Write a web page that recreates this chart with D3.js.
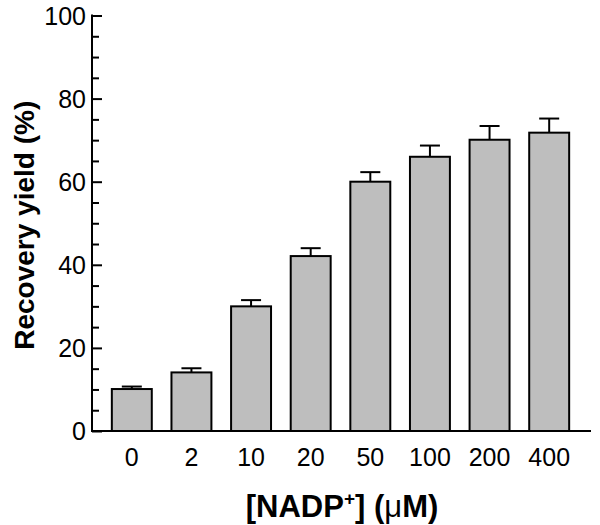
<!DOCTYPE html>
<html>
<head>
<meta charset="utf-8">
<script src="https://cdn.jsdelivr.net/npm/d3@7"></script>
<style>
  body { margin: 0; background: #fff; }
  text { font-family: "Liberation Sans", Arial, sans-serif; fill: #000; }
</style>
</head>
<body>
<div id="chart"></div>
<script>
// Data
const concentrations = ["0", "2", "10", "20", "50", "100", "200", "400"];
const recovery = [10.1, 14.1, 30.0, 42.1, 60.0, 66.0, 70.1, 71.8];
const errorUp = [0.6, 1.0, 1.5, 1.9, 2.3, 2.7, 3.3, 3.4];
const yTicks = [0, 20, 40, 60, 80, 100];

const W = 600, H = 525;
const axisX = 92, axisRight = 591;
const y0 = 431, yTop = 15.5;

const svg = d3.select("#chart")
    .append("svg")
    .attr("width", W)
    .attr("height", H);

const x = d3.scaleBand()
    .domain(concentrations)
    .range([102, 579])
    .paddingInner(0.33)
    .paddingOuter(0.165);

const y = d3.scaleLinear()
    .domain([0, 100])
    .range([y0, yTop]);

// Bars
svg.selectAll(".bar")
    .data(concentrations)
    .enter()
    .append("rect")
    .attr("class", "bar")
    .attr("x", d => x(d))
    .attr("y", (d, i) => y(recovery[i]))
    .attr("width", x.bandwidth())
    .attr("height", (d, i) => y0 - y(recovery[i]))
    .attr("fill", "#bebebe")
    .attr("stroke", "#000")
    .attr("stroke-width", 2);

// Error bars (upper only)
const err = svg.selectAll(".err")
    .data(concentrations)
    .enter()
    .append("g")
    .attr("class", "err")
    .attr("stroke", "#000")
    .attr("stroke-width", 2);

err.append("line")
    .attr("x1", d => x(d) + x.bandwidth() / 2)
    .attr("x2", d => x(d) + x.bandwidth() / 2)
    .attr("y1", (d, i) => y(recovery[i]))
    .attr("y2", (d, i) => y(recovery[i] + errorUp[i]));

err.append("line")
    .attr("x1", d => x(d) + x.bandwidth() / 2 - 10)
    .attr("x2", d => x(d) + x.bandwidth() / 2 + 10)
    .attr("y1", (d, i) => y(recovery[i] + errorUp[i]))
    .attr("y2", (d, i) => y(recovery[i] + errorUp[i]));

// Y axis: ticks point inward
const yAxis = svg.append("g")
    .attr("transform", `translate(${axisX},0)`)
    .call(d3.axisRight(y).tickValues(d3.range(0, 101, 5)).tickSize(7).tickFormat(""));
yAxis.select(".domain").remove();
yAxis.selectAll(".tick line")
    .attr("stroke-width", 2)
    .attr("x2", d => d % 20 === 0 ? 10 : 7);

svg.append("line")
    .attr("x1", axisX).attr("x2", axisX)
    .attr("y1", yTop - 1).attr("y2", y0 + 1)
    .attr("stroke", "#000").attr("stroke-width", 2);

svg.selectAll(".ylab")
    .data(yTicks)
    .enter()
    .append("text")
    .attr("class", "ylab")
    .attr("x", 86)
    .attr("y", d => y(d))
    .attr("dy", "0.36em")
    .attr("text-anchor", "end")
    .style("font-size", "25px")
    .text(d => d);

// X axis
svg.append("line")
    .attr("x1", axisX - 1).attr("x2", axisRight)
    .attr("y1", y0).attr("y2", y0)
    .attr("stroke", "#000").attr("stroke-width", 2);

const xAxis = svg.append("g")
    .attr("transform", `translate(0,${y0})`)
    .call(d3.axisBottom(x).tickSize(0).tickPadding(0));
xAxis.select(".domain").remove();
xAxis.selectAll("text")
    .attr("y", 35)
    .attr("dy", null)
    .style("font-family", "'Liberation Sans', Arial, sans-serif")
    .style("font-size", "25px")
    .attr("fill", "#000");

// Axis titles
const xt = svg.append("text")
    .attr("x", 342)
    .attr("y", 517)
    .attr("text-anchor", "middle")
    .style("font-size", "31px")
    .style("font-weight", "bold");
xt.append("tspan").text("[NADP");
xt.append("tspan").attr("dy", -12).style("font-size", "19px").text("+");
xt.append("tspan").attr("dy", 12).text("] (");
xt.append("tspan").style("font-weight", "normal").text("\u03bc");
xt.append("tspan").text("M)");

svg.append("text")
    .attr("transform", `translate(34,${(y0 + yTop) / 2 + 2}) rotate(-90)`)
    .attr("text-anchor", "middle")
    .style("font-size", "28px")
    .style("font-weight", "bold")
    .text("Recovery yield (%)");
</script>
</body>
</html>
